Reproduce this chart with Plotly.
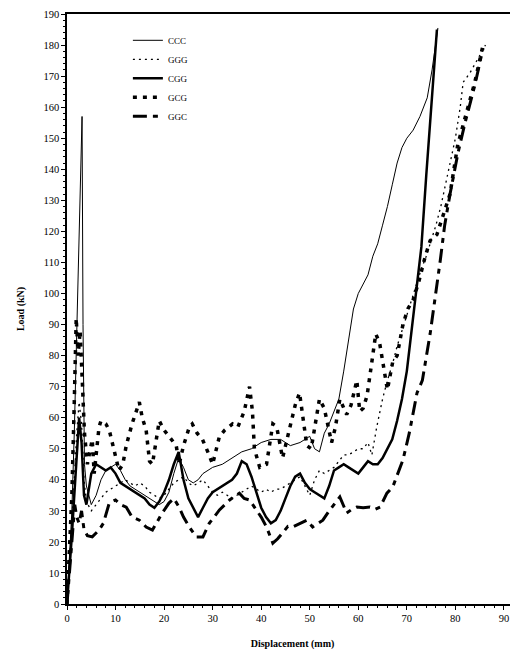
import plotly.graph_objects as go

# ---------------- data ----------------
ccc_x = [0, 0.5, 1, 1.5, 2, 2.5, 3.1, 3.3, 3.6, 4, 5, 6, 7, 8, 9, 10, 11, 12, 13, 14, 15, 16, 17, 18, 19, 20,
         21, 22, 23, 24, 25, 26, 27, 28, 29, 30, 32, 34, 36, 38, 40, 42, 44, 46, 48, 50, 51, 52, 53, 54, 55,
         56, 57, 58, 59, 60, 61, 62, 63, 64, 65, 66, 67, 68, 69, 70, 71.3, 72.7, 74.2, 75.2, 76.4]
ccc_y = [0, 15, 30, 55, 85, 120, 157, 90, 45, 38, 32, 35, 40, 43, 44, 45, 43, 40, 38, 37, 36, 35, 34, 33, 32, 33,
         36, 42, 47, 44, 40, 39, 40, 42, 43, 44, 45, 47, 49, 50, 52, 53, 53, 51, 52, 54, 50, 49, 55, 58, 62,
         66, 75, 85, 95, 100, 103, 106, 112, 116, 122, 128, 135, 142, 147, 150, 152.6, 157, 163, 172, 185.5]

ggg_x = [0, 0.5, 1, 1.5, 2, 2.5, 3, 3.5, 4, 5, 6, 7, 8, 9, 10, 11, 12, 13, 14, 15, 16, 17, 18, 19, 20, 21, 22,
         23, 24, 25, 26, 27, 28, 29, 30, 31, 32, 33, 34, 35, 36, 37, 38, 39, 40, 41, 42, 43, 44, 45, 46, 47,
         48, 49, 50, 51, 52, 53, 54, 55, 56, 57, 58, 59, 60, 61, 62, 62.8, 63.8, 65, 66, 67, 68, 69, 70, 71,
         72, 73, 74, 75, 76, 77, 78, 79, 80, 81, 81.6, 83, 84.5, 86.2]
ggg_y = [0, 12, 25, 40, 55, 65, 58, 40, 33, 30, 32, 34, 36, 37, 38, 39, 40, 39, 38, 39, 38, 36, 35, 34, 35, 37, 39,
         40, 41, 39, 38, 39, 40, 38, 36, 35, 36, 35, 34, 35, 36, 37, 38, 37, 36, 37, 36, 37, 37, 38, 39, 40,
         41, 38, 35, 40, 43, 42, 43, 44, 46, 48, 48, 49, 50, 50, 52, 48, 57, 66, 72, 77, 83, 88, 93, 98,
         103, 108, 112, 117, 122, 128, 135, 142, 150, 160, 168, 171, 175, 180]

cgg_x = [0, 0.5, 1, 1.5, 2, 2.5, 3, 3.5, 4, 5, 6, 7, 8, 9, 10, 11, 12, 13, 14, 15, 16, 17, 18, 19, 20, 21, 22,
         23, 24, 25, 26, 27, 28, 29, 30, 31, 32, 33, 34, 35, 36, 37, 38, 39, 40, 41, 42, 43, 44, 45, 46, 47,
         48, 49, 50, 51, 52, 53, 54, 55, 56, 57, 58, 59, 60, 61, 62, 63, 64, 65, 66, 67, 68, 69, 70, 71, 72,
         73, 74, 75, 76.2]
cgg_y = [0, 10, 22, 35, 48, 60, 52, 35, 32, 42, 45, 44, 43, 44, 42, 39, 38, 37, 36, 35, 34, 32, 31, 33, 36, 40, 45,
         49, 40, 34, 31, 28, 31, 34, 36, 37, 38, 39, 40, 42, 46, 45, 41, 36, 31, 28, 26, 27, 30, 34, 38, 41,
         42, 39, 37, 36, 35, 34, 38, 43, 44, 45, 44, 43, 42, 44, 46, 45, 45, 47, 50, 53, 59, 66, 75, 88, 100,
         115, 138, 160, 185]

gcg_x = [0, 0.5, 1, 1.5, 1.9, 2.3, 2.7, 3.2, 3.6, 4.2, 5.2, 5.6, 6.6, 7, 8, 8.7, 10, 10.7, 11.5, 12.2, 13.4, 14.2,
         14.9, 15.5, 16.3, 17, 17.6, 18.3, 19, 20, 21, 22.5, 23.1, 24, 25.2, 25.8, 26.8, 27.9, 29, 30, 31.4,
         32.5, 34.1, 35.2, 36.5, 37.6, 38.2, 38.6, 39.7, 41.1, 42.4, 43.2, 44.4, 45.9, 47, 47.9, 48.7, 49.4,
         50.3, 51.2, 52, 53, 54.5, 55.3, 56.2, 57.6, 58.5, 59.7, 60.3, 61, 61.8, 62.8, 63.6, 64.4, 65.1, 66,
         67.1, 68, 69.2, 70.2, 71.3, 72.5, 73.8, 74.8, 76.2, 77.5, 78.9, 80.5, 82, 84, 85.7]
gcg_y = [0, 15, 35, 65, 92, 80, 88, 70, 55, 45, 53, 42, 57, 59, 58, 56, 47, 43, 45, 51, 58, 62,
         65, 60, 56, 46, 45, 52, 59, 56, 54, 51, 45, 51, 57, 58, 55, 53, 49, 45, 54,
         56, 58, 57, 62, 70, 62, 50, 44, 45, 58, 57, 47, 57, 64, 68, 58, 51,
         50, 58, 66, 63, 52, 57, 66, 61, 64, 72, 62, 63, 67, 78, 87, 84, 77, 69,
         78, 80, 90, 95, 98, 104, 112, 117, 119, 125, 132, 148, 157, 168, 180]

ggc_x = [0, 0.4, 0.8, 1.2, 1.6, 2.0, 2.5, 3, 3.5, 4.2, 5.2, 6.6, 7.5, 8.7, 10, 11, 12.2, 13.4, 14.9, 16.3, 17.6,
         18.4, 19.5, 21, 22, 23.1, 24, 25.2, 26.6, 28, 29.3, 30.3, 31.4, 33.5, 35.5, 36.5, 37.6, 39, 40, 41.1,
         42.4, 43.4, 44.4, 45.5, 46.5, 48, 49.4, 50.6, 51.7, 52.7, 54, 55, 56.2, 57.6, 58.7, 59.7, 61, 62.4,
         63.5, 64.5, 65.9, 67.1, 68.6, 69.2, 70.5, 72.1, 73.2, 74.8, 76.9, 77.8, 78.9, 80.5, 82, 84, 85.7]
ggc_y = [0, 8, 18, 25, 32, 28, 26, 30, 24, 22, 21.6, 23.8, 26, 32.5, 33.5, 32, 31.2, 28, 27, 24.8, 23.8,
         26, 29, 32.5, 34, 31.2, 28, 24.8, 21.6, 21.6, 26, 28, 30.3, 33.5, 35.7, 34, 33.5, 30.3, 28, 24.8,
         19.6, 21, 22.8, 25, 24.8, 26, 27, 24.8, 26, 27, 30, 32, 34.5, 29.3, 30.5, 31.2, 31, 31.2,
         30.5, 31.2, 35.7, 37.7, 44, 46.4, 55, 68, 72, 87, 110.8, 122, 132, 145, 155, 167, 179]

series_names = ["CCC", "GGG", "CGG", "GCG", "GGC"]
x_ticks = [0, 10, 20, 30, 40, 50, 60, 70, 80, 90]
y_ticks = list(range(0, 191, 10))

# ---------------- figure ----------------
styles = [
    dict(color="black", width=1, dash="solid"),
    dict(color="black", width=1.3, dash="2px,4px"),
    dict(color="black", width=2.5, dash="solid"),
    dict(color="black", width=3.5, dash="4px,6px"),
    dict(color="black", width=3, dash="14px,6px,5px,6px"),
]
data = [(ccc_x, ccc_y), (ggg_x, ggg_y), (cgg_x, cgg_y), (gcg_x, gcg_y), (ggc_x, ggc_y)]

fig = go.Figure()
for name, (xs, ys), st in zip(series_names, data, styles):
    assert len(xs) == len(ys), name
    fig.add_trace(go.Scatter(x=xs, y=ys, mode="lines", name=name, line=st))

serif = "Liberation Serif, Times New Roman, serif"
# page has an 8px body margin: figure is 510x647 so it fits the 518x655 window
fig.update_layout(
    width=510, height=647,
    margin=dict(l=59, r=0, t=6, b=51),
    plot_bgcolor="white", paper_bgcolor="white",
    font=dict(family=serif, size=10, color="black"),
    showlegend=True,
    legend=dict(x=0.135, y=0.98, xanchor="left", yanchor="top",
                bgcolor="rgba(0,0,0,0)", font=dict(family=serif, size=9, color="black"),
                tracegroupgap=0, itemwidth=30),
)
fig.update_xaxes(
    range=[0, 92.9], tickmode="array", tickvals=x_ticks, automargin=False,
    showgrid=False, zeroline=False, showline=True, linecolor="black", linewidth=1.5,
    ticks="outside", ticklen=4, tickcolor="black",
    minor=dict(dtick=2, ticks="outside", ticklen=2, tickcolor="black"),
    tickfont=dict(family=serif, size=10.5, color="black"),
    title=dict(text="<b>Displacement (mm)</b>", font=dict(family=serif, size=10, color="black"), standoff=17),
    mirror=True,
)
fig.update_yaxes(
    range=[0, 190], tickmode="array", tickvals=y_ticks, automargin=False,
    showgrid=False, zeroline=False, showline=True, linecolor="black", linewidth=1.5,
    ticks="outside", ticklen=4, tickcolor="black",
    minor=dict(dtick=2, ticks="outside", ticklen=2, tickcolor="black"),
    tickfont=dict(family=serif, size=10.5, color="black"),
    title=dict(text="<b>Load (kN)</b>", font=dict(family=serif, size=10, color="black"), standoff=17),
    mirror=True,
)

fig.write_html("out.html")
